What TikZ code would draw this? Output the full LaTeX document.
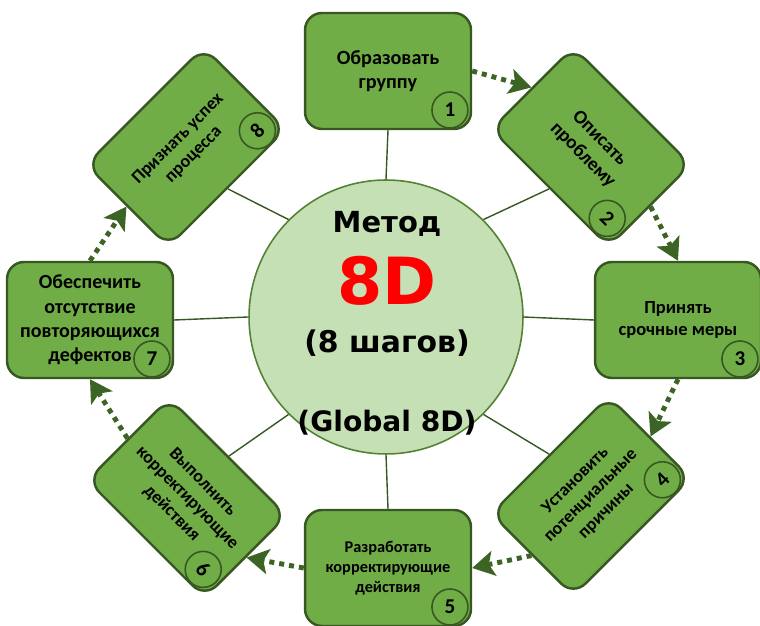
\documentclass[tikz,border=0pt]{standalone}
\usepackage{fontspec}
\setmainfont{Carlito}
\newfontfamily\heavyfont{DejaVu Sans}
\usetikzlibrary{calc, arrows.meta}

\definecolor{boxfill}{RGB}{112,173,71}
\definecolor{boxline}{RGB}{56,87,35}
\definecolor{hubfill}{RGB}{197,224,180}
\definecolor{hubline}{RGB}{84,130,53}
\definecolor{arrowgreen}{RGB}{60,100,36}

% box text at a given size
\newcommand{\boxfont}[1]{\bfseries\fontsize{#1}{1.22\dimexpr #1pt\relax}\selectfont}

\tikzset{
	stepbox/.style = {draw = boxline, fill = boxfill, line width = 1.4pt, rounded corners = 0.34cm,
		minimum width = 3.32cm, minimum height = 2.32cm, align = center, inner sep = 2pt,
		font = \boxfont{10}},
	stepnum/.style = {circle, draw = boxline, fill = boxfill, line width = 0.9pt, minimum size = 0.72cm,
		inner sep = 0pt, font = \bfseries\fontsize{12}{12}\selectfont},
	hub/.style = {circle, draw = hubline, fill = hubfill, line width = 0.9pt, minimum size = 5.48cm},
	hubtext/.style = {anchor = base, inner sep = 0pt},
	spoke/.style = {draw = boxline, line width = 0.8pt},
	flow/.style = {draw = arrowgreen, line width = 2.8pt, dash pattern = on 0.1cm off 0.1cm,
		-{Stealth[length = 0.44cm, width = 0.5cm, inset = 0.1cm]}}
}

\begin{document}
\begin{tikzpicture}[x = 0.02cm, y = 0.02cm]
			\useasboundingbox (0,0) rectangle (760,625);

			% central circle
			\node[hub] (hub) at (386,308) {};
			\node[hubtext, font = \heavyfont\bfseries\fontsize{16.5}{18}\selectfont] (title) at (387,392) {Метод};
			\node[hubtext, text = red, font = \heavyfont\bfseries\fontsize{37}{40}\selectfont] (big) at (387,320) {8D};
			\node[hubtext, font = \heavyfont\bfseries\fontsize{17}{18}\selectfont] (steps) at (387,272) {(8 шагов)};
			\node[hubtext, font = \heavyfont\bfseries\fontsize{16}{18}\selectfont] (global) at (387,193) {(Global 8D)};

			% the eight steps
			\node[stepbox, font = \boxfont{11.5}] (b1) at (388,554) {Образовать\\группу};
			\node[stepbox, font = \boxfont{11}, rotate = -45] (b2) at (591,478) {Описать\\проблему};
			\node[stepbox, font = \boxfont{10.5}] (b3) at (678,305) {Принять\\срочные меры};
			\node[stepbox, font = \boxfont{10.2}, rotate = 45] (b4) at (591,129) {Установить\\потенциальные\\причины};
			\node[stepbox, font = \boxfont{9.3}] (b5) at (388,57) {Разработать\\корректирующие\\действия};
			\node[stepbox, font = \boxfont{10.2}, rotate = -45] (b6) at (187,127) {Выполнить\\корректирующие\\действия};
			\node[stepbox, font = \boxfont{11.4}, xshift = -0.04cm] (b7) at (92,305) {Обеспечить\\отсутствие\\повторяющихся\\дефектов};
			\node[stepbox, font = \boxfont{10.3}, rotate = 45] (b8) at (186,478) {Признать успех\\процесса};

			% numbers in the lower right corners
			\node[stepnum] (n1) at ($(b1.center)+({-32.2}:73.2)$) {1};
			\node[stepnum, rotate = -45] (n2) at ($(b2.center)+({-45-32.2}:73.2)$) {2};
			\node[stepnum] (n3) at ($(b3.center)+({-32.2}:73.2)$) {3};
			\node[stepnum, rotate = 45] (n4) at ($(b4.center)+({45-32.2}:73.2)$) {4};
			\node[stepnum] (n5) at ($(b5.center)+({-32.2}:73.2)$) {5};
			\node[stepnum, rotate = -45] (n6) at ($(b6.center)+({-45-32.2}:73.2)$) {6};
			\node[stepnum] (n7) at ($(b7.center)+({-32.2}:73.2)$) {7};
			\node[stepnum, rotate = 45] (n8) at ($(b8.center)+({45-32.2}:73.2)$) {8};

			% spokes
			\draw[spoke] (hub.90) -- (b1.south);
			\draw[spoke] (hub.45) -- (b2.south);
			\draw[spoke] (hub.0) -- (b3.west);
			\draw[spoke] (hub.-45) -- (b4.north);
			\draw[spoke] (hub.-90) -- (b5.north);
			\draw[spoke] (hub.-135) -- (b6.north);
			\draw[spoke] (hub.180) -- (b7.east);
			\draw[spoke] (hub.135) -- (b8.south);

			% dotted flow between the steps
			\draw[flow] (b1.east) -- (b2.west);
			\draw[flow] (b2.east) -- (b3.north);
			\draw[flow] (b3.south) -- (b4.east);
			\draw[flow] (b4.west) -- (b5.east);
			\draw[flow] (b5.west) -- (b6.east);
			\draw[flow] (b6.west) -- (b7.south);
			\draw[flow] (b7.north) -- (b8.west);
		\end{tikzpicture}
\end{document}
